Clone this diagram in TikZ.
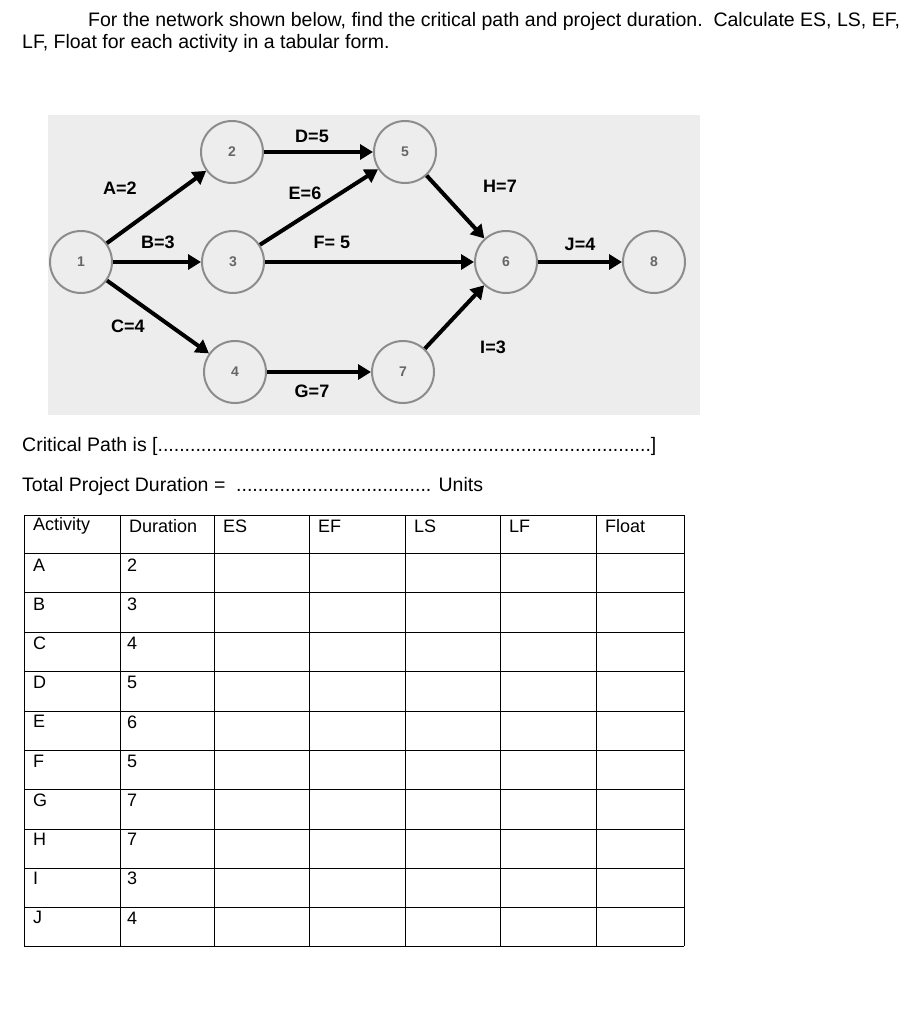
\documentclass[tikz,border=0pt]{standalone}
\usepackage{fontspec}
\setmainfont{Liberation Sans}
\usetikzlibrary{arrows.meta}
\begin{document}
\begin{tikzpicture}[x=1pt,y=-1pt,
  ev/.style={circle,draw=black!45,line width=2pt,fill=black!7,minimum size=62pt,inner sep=0pt,font=\fontsize{14}{15}\selectfont\bfseries,text=black!60},
  act/.style={line width=4pt,-{Triangle[length=13pt,width=15pt]}},
  lab/.style={font=\fontsize{18}{20}\selectfont\bfseries,inner sep=1pt},
  txt/.style={font=\fontsize{19.5}{22}\selectfont,anchor=west,inner sep=0pt},
  cell/.style={font=\fontsize{18}{21}\selectfont,anchor=west,inner sep=0pt}]
\useasboundingbox (0,0) rectangle (922,1024);
\fill[white] (0,0) rectangle (922,1024);
\node[txt] (h1) at (88,21) {For the network shown below, find the critical path and project duration.\ \ Calculate ES, LS, EF,};
\node[txt] (h2) at (22,43) {LF, Float for each activity in a tabular form.};
\fill[black!7] (48,115) rectangle (700,415);
\node[ev] (n1) at (81,262) {1};
\node[ev] (n2) at (232,152) {2};
\node[ev] (n3) at (233,262) {3};
\node[ev] (n4) at (235,372) {4};
\node[ev] (n5) at (405,152) {5};
\node[ev] (n6) at (506,262) {6};
\node[ev] (n7) at (403,372) {7};
\node[ev] (n8) at (654,262) {8};
\draw[act] (n1) -- (n2);
\draw[act] (n1) -- (n3);
\draw[act] (n1) -- (n4);
\draw[act] (n2) -- (n5);
\draw[act] (n3) -- (n5);
\draw[act] (n3) -- (n6);
\draw[act] (n4) -- (n7);
\draw[act] (n5) -- (n6);
\draw[act] (n7) -- (n6);
\draw[act] (n6) -- (n8);
\node[lab] (la) at (120,188) {A=2};
\node[lab] (lb) at (158,242) {B=3};
\node[lab] (lc) at (128,326) {C=4};
\node[lab] (ld) at (312,136) {D=5};
\node[lab] (le) at (305,193) {E=6};
\node[lab] (lf) at (332,242) {F= 5};
\node[lab] (lg) at (312,391) {G=7};
\node[lab] (lh) at (500,186) {H=7};
\node[lab] (li) at (493,347) {I=3};
\node[lab] (lj) at (580,244) {J=4};
\node[txt] (cp) at (22,446) {Critical Path is [...........................................................................................]};
\node[txt] (td) at (22,486) {Total Project Duration = \ .................................... Units};
\foreach \x in {24,120,214,309,405,500,596,684} \draw[line width=1pt] (\x,515) -- (\x,946);
\foreach \y in {515,553,592,632,671,711,750,789,829,868,907,946} \draw[line width=1pt] (24,\y) -- (684,\y);
\node[cell] (c1) at (33,526) {Activity};
\node[cell] (c2) at (129,526) {Duration};
\node[cell] (c3) at (223,526) {ES};
\node[cell] (c4) at (318,526) {EF};
\node[cell] (c5) at (414,526) {LS};
\node[cell] (c6) at (509,526) {LF};
\node[cell] (c7) at (605,526) {Float};
\foreach \a/\d [count=\i] in {A/2,B/3,C/4,D/5,E/6,F/5,G/7,H/7,I/3,J/4} {
  \node[cell] at (33,{565+(\i-1)*39.2}) {\a};
  \node[cell] at (127,{565+(\i-1)*39.2}) {\d};
}
\end{tikzpicture}
\end{document}
